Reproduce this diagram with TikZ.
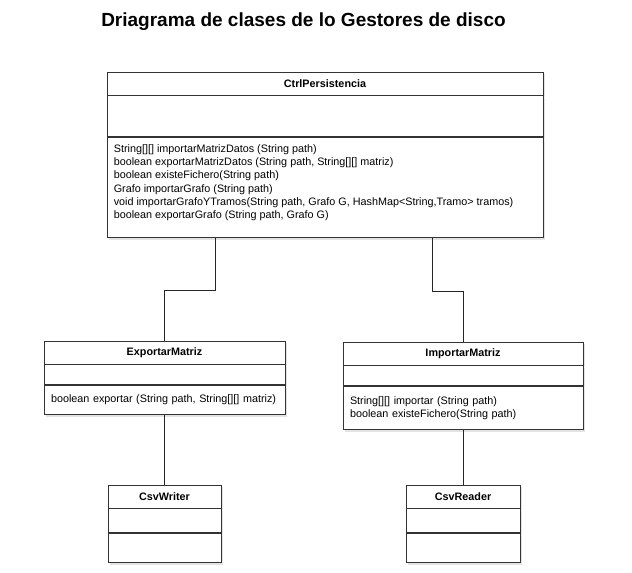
\documentclass[tikz,border=0pt]{standalone}
\usepackage{fontspec}
\setmainfont{Liberation Sans}
\usetikzlibrary{positioning, shadows, calc}

\tikzset{
	classbox/.style = {draw = black!80, line width = 0.8pt, fill = white, inner sep = 0pt,
		drop shadow = {opacity = 0.22, shadow xshift = 2pt, shadow yshift = -2pt}},
	classhead/.style = {classbox, minimum height = 23pt, font = \fontsize{10.8}{13.3}\selectfont\bfseries},
	classpart/.style = {classbox, font = \fontsize{10.8}{13.3}\selectfont, align = left, inner xsep = 7pt},
	link/.style = {draw = black!85, line width = 0.8pt}
}

\begin{document}
\begin{tikzpicture}[x = 1pt, y = -1pt]
			\useasboundingbox (0,0) rectangle (632,573);

			\node [font = \fontsize{19}{22}\selectfont\bfseries, anchor = base] (title) at (303.5,26) {Driagrama de clases de lo Gestores de disco};

			% CtrlPersistencia
			\begin{scope}
				\node [classhead, minimum width = 436pt] (ctrl) at (325,83.5) {CtrlPersistencia};
				\node [classpart, minimum width = 436pt, minimum height = 41pt, below = 0pt of ctrl] (ctrlAttr) {};
				\node [classpart, minimum width = 436pt, minimum height = 100pt, below = 0pt of ctrlAttr] (ctrlOps) {};
				\node [anchor = north west, inner sep = 0pt, align = left, font = \fontsize{10.8}{13.3}\selectfont] (ctrlOpsText) at ([xshift = 7pt, yshift = -7pt]ctrlOps.north west)
					{String[][] importarMatrizDatos (String path)\\
					boolean exportarMatrizDatos (String path, String[][] matriz)\\
					boolean existeFichero(String path)\\
					Grafo importarGrafo (String path)\\
					void importarGrafoYTramos(String path, Grafo G, HashMap<String,Tramo> tramos)\\
					boolean exportarGrafo (String path, Grafo G)};
			\end{scope}

			% ExportarMatriz
			\begin{scope}
				\node [classhead, minimum width = 241pt] (exp) at (164.5,352.5) {ExportarMatriz};
				\node [classpart, minimum width = 241pt, minimum height = 20pt, below = 0pt of exp] (expAttr) {};
				\node [classpart, minimum width = 241pt, minimum height = 29pt, text width = 227pt, below = 0pt of expAttr] (expOps)
					{boolean exportar (String path, String[][] matriz)};
			\end{scope}

			% ImportarMatriz
			\begin{scope}
				\node [classhead, minimum width = 240pt] (imp) at (463,353.5) {ImportarMatriz};
				\node [classpart, minimum width = 240pt, minimum height = 20pt, below = 0pt of imp] (impAttr) {};
				\node [classpart, minimum width = 240pt, minimum height = 43pt, text width = 226pt, below = 0pt of impAttr] (impOps)
					{String[][] importar (String path)\\
					boolean existeFichero(String path)};
			\end{scope}

			% CsvWriter y CsvReader
			\begin{scope}
				\node [classhead, minimum width = 113pt] (csvw) at (164.5,496.5) {CsvWriter};
				\node [classpart, minimum width = 113pt, minimum height = 24pt, below = 0pt of csvw] (csvwAttr) {};
				\node [classpart, minimum width = 113pt, minimum height = 29pt, below = 0pt of csvwAttr] (csvwOps) {};

				\node [classhead, minimum width = 114pt] (csvr) at (463,496.5) {CsvReader};
				\node [classpart, minimum width = 114pt, minimum height = 24pt, below = 0pt of csvr] (csvrAttr) {};
				\node [classpart, minimum width = 114pt, minimum height = 29pt, below = 0pt of csvrAttr] (csvrOps) {};
			\end{scope}

			% conexiones
			\begin{scope}
				\draw [link] ($(ctrlOps.south west) + (109,0)$) -- ++(0,52) -| (exp.north);
				\draw [link] ($(ctrlOps.south west) + (326,0)$) -- ++(0,53) -| (imp.north);
				\draw [link] (expOps.south) -- (csvw.north);
				\draw [link] (impOps.south) -- (csvr.north);
			\end{scope}
		\end{tikzpicture}
\end{document}
